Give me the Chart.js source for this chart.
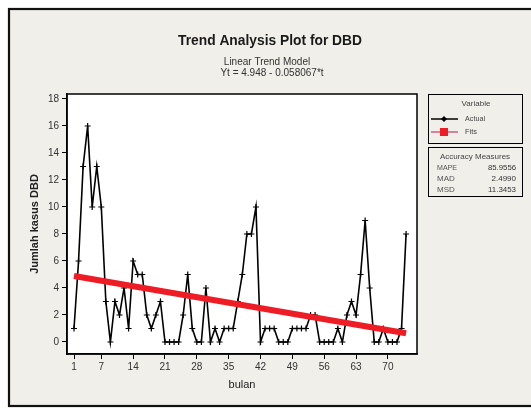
<!DOCTYPE html>
<html><head><meta charset="utf-8">
<script src="https://cdn.jsdelivr.net/npm/chart.js@4/dist/chart.umd.min.js"></script>
<style>html,body{margin:0;padding:0;background:#fff;overflow:hidden}#wrap{position:relative;width:531px;height:409px}</style>
</head><body><div id="wrap"><canvas id="c" width="531" height="409"></canvas></div>
<script>
// ---- data ----
const bulan = [1,2,3,4,5,6,7,8,9,10,11,12,13,14,15,16,17,18,19,20,21,22,23,24,25,26,27,28,29,30,31,32,33,34,35,36,37,38,39,40,41,42,43,44,45,46,47,48,49,50,51,52,53,54,55,56,57,58,59,60,61,62,63,64,65,66,67,68,69,70,71,72,73,74];
const actual = [1,6,13,16,10,13,10,3,0,3,2,4,1,6,5,5,2,1,2,3,0,0,0,0,2,5,1,0,0,4,0,1,0,1,1,1,3,5,8,8,10,0,1,1,1,0,0,0,1,1,1,1,2,2,0,0,0,0,1,0,2,3,2,5,9,4,0,0,1,0,0,0,1,8];
const fitT = [1,74];
const fitValues = [4.89,0.65];
const xTickValues = [1,7,14,21,28,35,42,49,56,63,70];
const yTickValues = [0,2,4,6,8,10,12,14,16,18];
const titleText = 'Trend Analysis Plot for DBD';
const subtitleLines = ['Linear Trend Model','Yt = 4.948 - 0.058067*t'];
const seriesNames = ['Actual','Fits'];
const accuracyLabels = ['MAPE','MAD','MSD'];
const accuracyValues = ['85.9556','2.4990','11.3453'];

const FONT = '"Liberation Sans", Arial, sans-serif';
const RED = '#ee1c25';

const decor = {
  id:'decor',
  beforeDraw(chart){
    const ctx = chart.ctx, a = chart.chartArea;
    ctx.save();
    ctx.fillStyle = '#ffffff'; ctx.fillRect(0,0,chart.width,chart.height);
    ctx.fillStyle = '#f1efea'; ctx.fillRect(8,8,chart.width,399);
    ctx.strokeStyle = '#111'; ctx.lineWidth = 2.2;
    ctx.strokeRect(9,9,chart.width+10,397);
    ctx.fillStyle = '#ffffff';
    ctx.fillRect(a.left,a.top,a.right-a.left,a.bottom-a.top);
    ctx.restore();
  },
  afterDraw(chart){
    const ctx = chart.ctx, a = chart.chartArea;
    ctx.save();
    ctx.strokeStyle = '#000'; ctx.lineWidth = 1.5;
    ctx.strokeRect(a.left,a.top,a.right-a.left,a.bottom-a.top);
    // titles
    ctx.fillStyle = '#1a1a1a'; ctx.textAlign = 'center'; ctx.textBaseline = 'middle';
    ctx.font = 'bold 15px ' + FONT;
    ctx.fillText(titleText, 270, 41, 184);
    ctx.fillStyle = '#333';
    ctx.font = '10px ' + FONT;
    ctx.fillText(subtitleLines[0], 267, 62, 99);
    ctx.fillText(subtitleLines[1], 272, 73, 123);
    // legend box 1
    ctx.strokeStyle = '#000'; ctx.lineWidth = 1;
    ctx.strokeRect(428.5,94.5,94,49);
    ctx.fillStyle = '#444'; ctx.font = '8px ' + FONT;
    ctx.fillText('Variable', 476, 104, 30);
    ctx.textAlign = 'left';
    ctx.beginPath(); ctx.moveTo(431,119); ctx.lineTo(458,119); ctx.strokeStyle='#000'; ctx.lineWidth=1.5; ctx.stroke();
    ctx.beginPath(); ctx.moveTo(444,116); ctx.lineTo(447,119); ctx.lineTo(444,122); ctx.lineTo(441,119); ctx.closePath(); ctx.fillStyle='#000'; ctx.fill();
    ctx.beginPath(); ctx.moveTo(431,132); ctx.lineTo(458,132); ctx.strokeStyle='#c23a6a'; ctx.lineWidth=1.2; ctx.stroke();
    ctx.fillStyle = RED; ctx.fillRect(440,128,8,8);
    ctx.fillStyle = '#444';
    ctx.fillText(seriesNames[0], 465, 119, 20);
    ctx.fillText(seriesNames[1], 465, 132, 12);
    // legend box 2
    ctx.strokeStyle = '#000'; ctx.lineWidth = 1;
    ctx.strokeRect(428.5,147.5,94,49);
    ctx.textAlign = 'center';
    ctx.fillText('Accuracy Measures', 475, 157, 86);
    for (let i=0;i<accuracyLabels.length;i++){
      const y = 168 + i*11;
      ctx.textAlign = 'left'; ctx.fillStyle = '#555';
      ctx.fillText(accuracyLabels[i], 437, y, 20);
      ctx.textAlign = 'right'; ctx.fillStyle = '#333';
      ctx.fillText(accuracyValues[i], 516, y, 28);
    }
    ctx.restore();
  }
};

new Chart(document.getElementById('c'), {
  type:'line',
  data:{
    datasets:[
      {
        label: seriesNames[0],
        data: bulan.map((t,i)=>({x:t,y:actual[i]})),
        borderColor:'#000', backgroundColor:'#000',
        borderWidth:1.6, tension:0,
        pointStyle:'cross', pointRadius:3, pointBorderWidth:1.2, pointBorderColor:'#000',
        order:2
      },
      {
        label: seriesNames[1],
        data: fitT.map((t,i)=>({x:t,y:fitValues[i]})),
        borderColor:RED, backgroundColor:RED,
        borderWidth:6, pointRadius:0, tension:0,
        order:1
      }
    ]
  },
  options:{
    responsive:false, animation:false, devicePixelRatio:1,
    layout:{padding:{left:25,top:94,right:114,bottom:17}},
    plugins:{legend:{display:false}, title:{display:false}, tooltip:{enabled:false}},
    scales:{
      x:{
        type:'linear', min:-0.54, max:76.4,
        afterBuildTicks(s){ s.ticks = xTickValues.map(v=>({value:v})); },
        afterFit(s){ s.height = 38; },
        ticks:{autoSkip:false, maxRotation:0, padding:2, color:'#333', font:{family:FONT,size:10}},
        grid:{drawOnChartArea:false, drawTicks:true, tickLength:5, color:'#000', lineWidth:1},
        border:{display:true, color:'#000', width:1.5},
        title:{display:true, text:'bulan', color:'#222', font:{family:FONT,size:11}, padding:{top:0,bottom:0}}
      },
      y:{
        type:'linear', min:-0.89, max:18.37,
        afterBuildTicks(s){ s.ticks = yTickValues.map(v=>({value:v})); },
        afterFit(s){ s.width = 42; },
        ticks:{autoSkip:false, padding:3, color:'#333', font:{family:FONT,size:10}},
        grid:{drawOnChartArea:false, drawTicks:true, tickLength:5, color:'#000', lineWidth:1},
        border:{display:true, color:'#000', width:1.5},
        title:{display:true, text:'Jumlah kasus DBD', color:'#222', font:{family:FONT,size:11,weight:'bold'}, padding:{top:3,bottom:0}}
      }
    }
  },
  plugins:[decor]
});
</script>
</body></html>
